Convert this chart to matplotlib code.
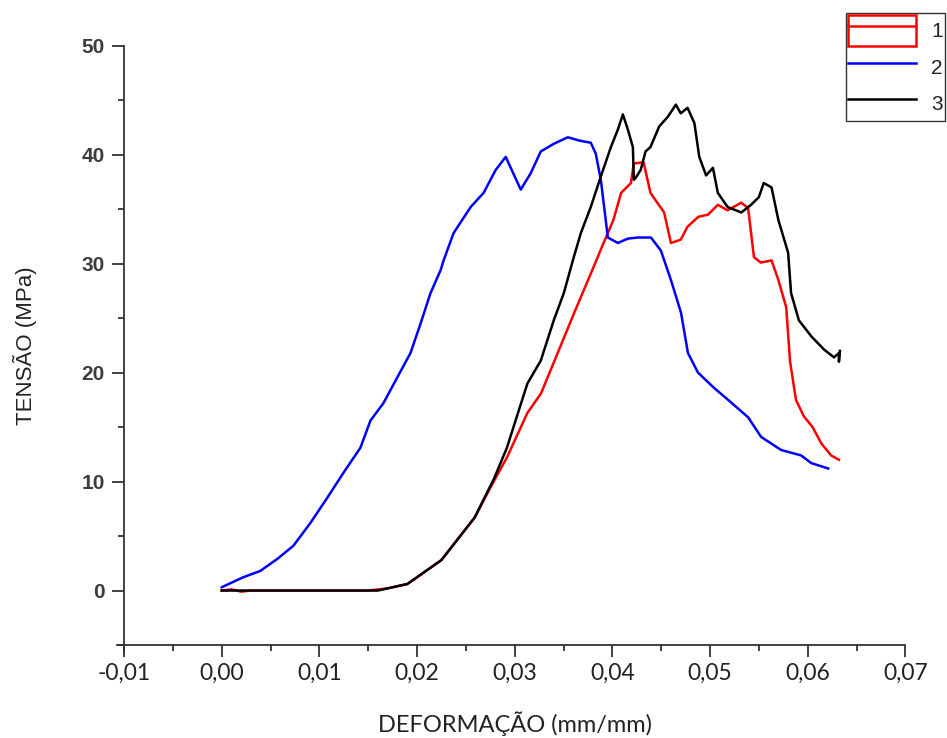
import matplotlib
matplotlib.use("Agg")
import matplotlib.pyplot as plt
from matplotlib.patches import Rectangle
from matplotlib.lines import Line2D
from matplotlib.legend_handler import HandlerTuple
from matplotlib.ticker import MultipleLocator, FuncFormatter

# ---- data ----
x1 = [0.0, 0.001, 0.002, 0.003, 0.015, 0.017, 0.019, 0.0192, 0.0225, 0.0259, 0.0279, 0.0292, 0.0313,
      0.0327, 0.0344, 0.0361, 0.0378, 0.0391, 0.0401, 0.0409, 0.0419, 0.0422, 0.0432, 0.0439,
      0.0453, 0.0460, 0.0470, 0.0477, 0.0488, 0.0498, 0.0508, 0.0518, 0.0532, 0.0539, 0.0545,
      0.0552, 0.0563, 0.0570, 0.0578, 0.0582, 0.0588, 0.0596, 0.0605, 0.0614, 0.0624, 0.0632]
y1 = [0.0, 0.1, -0.1, 0.0, 0.0, 0.2, 0.6, 0.7, 2.8, 6.7, 10.1, 12.2, 16.3,
      18.1, 21.8, 25.5, 29.1, 31.9, 34.0, 36.5, 37.4, 39.2, 39.3, 36.5,
      34.7, 31.9, 32.2, 33.4, 34.3, 34.5, 35.4, 34.9, 35.6, 35.1, 30.6,
      30.1, 30.3, 28.5, 26.0, 21.0, 17.5, 16.0, 15.0, 13.5, 12.4, 12.0]

x2 = [0.0, 0.00215, 0.00395, 0.00569, 0.00733, 0.00908, 0.0108, 0.01246, 0.0142, 0.01523,
      0.01656, 0.018, 0.01933, 0.02036, 0.02138, 0.02241, 0.02272, 0.02374, 0.02549, 0.02682,
      0.02805, 0.02908, 0.03062, 0.03164, 0.03267, 0.0340, 0.03544, 0.0366, 0.03779, 0.0383,
      0.03882, 0.03954, 0.04056, 0.0416, 0.04262, 0.04395, 0.04497, 0.046, 0.04703, 0.04774,
      0.04877, 0.05041, 0.05185, 0.0539, 0.05523, 0.05728, 0.05933, 0.06036, 0.0621]
y2 = [0.3, 1.2, 1.8, 2.9, 4.1, 6.2, 8.5, 10.8, 13.1, 15.6,
      17.2, 19.6, 21.8, 24.5, 27.3, 29.4, 30.3, 32.8, 35.2, 36.5,
      38.6, 39.8, 36.8, 38.3, 40.3, 41.0, 41.6, 41.3, 41.1, 40.1,
      37.7, 32.4, 31.9, 32.3, 32.4, 32.4, 31.2, 28.5, 25.5, 21.8,
      20.0, 18.6, 17.5, 15.9, 14.1, 12.9, 12.4, 11.7, 11.2]

x3 = [0.0, 0.016, 0.019, 0.0225, 0.0259, 0.0279, 0.0292, 0.0313, 0.03267, 0.0340, 0.03503,
      0.03605, 0.03677, 0.03779, 0.03882, 0.03985, 0.04056, 0.04108, 0.04159, 0.0421, 0.0422,
      0.0424, 0.0429, 0.0434, 0.0439, 0.0448, 0.0457, 0.0465, 0.0470, 0.0477, 0.0484, 0.0489,
      0.0496, 0.0503, 0.0508, 0.0518, 0.0532, 0.0542, 0.0550, 0.0555, 0.0563, 0.0570, 0.0580,
      0.0583, 0.0591, 0.0604, 0.0617, 0.0627, 0.0632, 0.0632, 0.0633]
y3 = [0.0, 0.0, 0.6, 2.8, 6.7, 10.3, 13.1, 19.0, 21.1, 24.8, 27.3,
      30.6, 32.8, 35.2, 38.0, 40.7, 42.3, 43.7, 42.3, 40.7, 37.7,
      37.9, 38.6, 40.3, 40.7, 42.6, 43.5, 44.6, 43.8, 44.3, 42.9, 39.8,
      38.1, 38.8, 36.5, 35.2, 34.7, 35.4, 36.1, 37.4, 37.0, 34.0, 31.0,
      27.3, 24.8, 23.3, 22.1, 21.4, 21.8, 21.0, 22.0]

labels = ["1", "2", "3"]
x_ticks = [-0.01, 0.00, 0.01, 0.02, 0.03, 0.04, 0.05, 0.06, 0.07]
y_ticks = [0, 10, 20, 30, 40, 50]

# ---- figure ----
fig = plt.figure(figsize=(9.47, 7.38), dpi=100)
ax = fig.add_axes([0.131, 0.126, 0.825, 0.812])

lw = 1.8
l1, = ax.plot(x1, y1, color="#ff0000", lw=lw)
l2, = ax.plot(x2, y2, color="#0000ff", lw=lw)
l3, = ax.plot(x3, y3, color="black", lw=lw)

ax.set_xlim(-0.01, 0.07)
ax.set_ylim(-5, 50)
ax.set_xticks(x_ticks)
ax.set_yticks(y_ticks)
ax.xaxis.set_minor_locator(MultipleLocator(0.005))
ax.yaxis.set_minor_locator(MultipleLocator(5))
ax.xaxis.set_major_formatter(FuncFormatter(lambda v, p: f"{v:.2f}".replace(".", ",").replace("-0,00", "0,00")))

for s in ["top", "right"]:
    ax.spines[s].set_visible(False)
for s in ["left", "bottom"]:
    ax.spines[s].set_color("#333333")
    ax.spines[s].set_linewidth(1.3)
# axes cross slightly past the origin corner, as in the original software
ax.spines["bottom"].set_bounds(-0.0107, 0.07)
ax.spines["left"].set_bounds(-5.6, 50)

ax.tick_params(which="major", direction="out", length=8.5, width=1.3, color="#333333")
ax.tick_params(which="minor", direction="out", length=4.5, width=1.3, color="#333333")
ax.tick_params(axis="y", which="major", pad=5.5)
ax.tick_params(axis="x", which="major", pad=4)

for t in ax.get_yticklabels():
    t.set_fontfamily(["Liberation Sans", "DejaVu Sans"])
    t.set_fontweight("bold")
    t.set_fontsize(15)
    t.set_color("#3d3d3d")
for t in ax.get_xticklabels():
    t.set_fontfamily(["Lato", "DejaVu Sans"])
    t.set_fontsize(16.5)
    t.set_color("#222222")

ax.set_ylabel("TENSÃO (MPa)", fontsize=16, family=["Liberation Sans", "DejaVu Sans"], color="#222222")
ax.yaxis.set_label_coords(-0.111, 0.5)
ax.set_xlabel("DEFORMAÇÃO (mm/mm)", fontsize=17, family=["Lato", "DejaVu Sans"], color="#222222")
ax.xaxis.set_label_coords(0.5, -0.11)

rect = Rectangle((0, 0), 1, 1, facecolor="none", edgecolor="#ff0000", lw=lw)
red_line = Line2D([], [], color="#ff0000", lw=lw)
leg = fig.legend([(rect, red_line), l2, l3], labels,
                 handler_map={tuple: HandlerTuple(ndivide=1)},
                 loc="upper right", bbox_to_anchor=(945 / 947, 1 - 13 / 738),
                 fontsize=15, handlelength=3.25, handleheight=1.9, labelspacing=0.27,
                 handletextpad=0.75, borderpad=0.1, borderaxespad=0.0,
                 frameon=True, fancybox=False, edgecolor="#333333", framealpha=1)
leg.get_frame().set_linewidth(1.0)
for t in leg.get_texts():
    t.set_fontfamily(["Liberation Sans", "DejaVu Sans"])
    t.set_color("#222222")

fig.savefig("out.png", dpi=100)
